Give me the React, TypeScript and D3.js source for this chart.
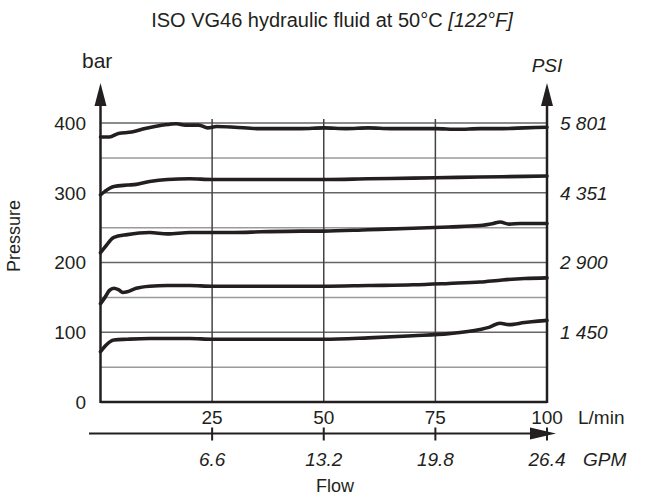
import React from "react";
import * as d3 from "d3";

const W = 665;
const H = 497;

const yTicks = [0, 100, 200, 300, 400];
const gridBar = [50, 100, 150, 200, 250, 300, 350, 400];
const psiLabels = ["1 450", "2 900", "4 351", "5 801"];
const psiAt = [100, 200, 300, 400];
const flowTicks = [25, 50, 75, 100];
const gpmLabels = ["6.6", "13.2", "19.8", "26.4"];

const c1: [number, number][] = [
  [0, 380], [2, 380], [4, 385], [7, 387], [10, 392], [14, 397], [17, 399], [19, 397],
  [22, 397], [24, 393], [26, 395], [30, 394], [35, 392], [40, 392], [45, 392], [50, 393],
  [55, 392], [60, 393], [65, 392], [70, 392], [75, 392], [80, 391], [85, 392], [90, 392],
  [95, 393], [100, 394],
];
const c2: [number, number][] = [
  [0, 297], [1, 302], [3, 309], [6, 311], [8, 312], [11, 316], [15, 319], [20, 320],
  [25, 319], [30, 319], [40, 319], [50, 319], [60, 320], [70, 321], [80, 322], [90, 323],
  [100, 324],
];
const c3: [number, number][] = [
  [0, 214], [1, 222], [3, 236], [6, 240], [11, 243], [15, 241], [20, 243], [25, 243],
  [30, 243], [36, 244], [45, 245], [50, 245], [60, 247], [70, 249], [78, 251], [85, 253],
  [88, 256], [89.5, 258], [91.5, 255], [94, 256], [100, 256],
];
const c4: [number, number][] = [
  [0, 141], [1, 150], [2, 160], [3, 163], [4, 161], [5, 157], [6, 158], [8, 163],
  [11, 166], [15, 167], [20, 167], [25, 166], [30, 166], [40, 166], [50, 166], [60, 167],
  [70, 168], [78, 170], [85, 172], [90, 175], [95, 177], [100, 178],
];
const c5: [number, number][] = [
  [0, 72], [1, 80], [3, 89], [6, 90], [11, 91], [20, 91], [25, 90], [30, 90], [40, 90],
  [50, 90], [60, 92], [70, 95], [78, 98], [85, 104], [87, 107], [89.5, 113], [91.5, 111],
  [95, 114], [98, 116], [100, 117],
];
const curves = [c1, c2, c3, c4, c5];

const INK = "#231f20";
const FONT = "'Liberation Sans', Arial, sans-serif";

export default function App() {
  const x = d3.scaleLinear().domain([0, 100]).range([100.5, 547]);
  const y = d3.scaleLinear().domain([0, 400]).range([402, 123]);
  const line = d3
    .line<[number, number]>()
    .x((d) => x(d[0]))
    .y((d) => y(d[1]))
    .curve(d3.curveMonotoneX);

  const axisY2 = 433.5;
  const fs = 19;

  return (
    <svg width={W} height={H} style={{ display: "block", position: "absolute", left: 0, top: 0 }} fontFamily={FONT}>
      <rect width={W} height={H} fill="#fff" />
      {/* title */}
      <text x={332} y={27} textAnchor="middle" fontSize={20} fill={INK}>
        ISO VG46 hydraulic fluid at 50°C <tspan fontStyle="italic">[122°F]</tspan>
      </text>

      {/* horizontal grid */}
      {gridBar.map((v) => (
        <line key={"h" + v} x1={x(0)} x2={x(100)} y1={y(v)} y2={y(v)}
          stroke={v % 100 === 0 ? "#666" : "#9a9a9a"} strokeWidth={1.5} />
      ))}
      {/* vertical grid */}
      {flowTicks.slice(0, 3).map((v) => (
        <line key={"v" + v} x1={x(v)} x2={x(v)} y1={119} y2={y(0)} stroke="#444" strokeWidth={1.5} />
      ))}

      {/* curves */}
      {curves.map((c, i) => (
        <path key={"c" + i} d={line(c) || ""} fill="none" stroke={INK} strokeWidth={3.6}
          strokeLinejoin="round" strokeLinecap="round" />
      ))}

      {/* frame axes */}
      <line x1={x(0)} x2={x(100)} y1={y(0)} y2={y(0)} stroke={INK} strokeWidth={2.5} />
      <line x1={x(0)} x2={x(0)} y1={y(0) + 1} y2={100} stroke={INK} strokeWidth={2.5} />
      <path d={`M${x(0)},83 L${x(0) - 6},106 L${x(0) + 6},106 Z`} fill={INK} />
      <line x1={x(100)} x2={x(100)} y1={y(0) + 1} y2={100} stroke={INK} strokeWidth={2.5} />
      <path d={`M${x(100)},83 L${x(100) - 6},106 L${x(100) + 6},106 Z`} fill={INK} />

      {/* left ticks */}
      {yTicks.map((v) => (
        <text key={"yl" + v} x={86} y={y(v)} dy="0.36em" textAnchor="end" fontSize={fs} fill={INK}>
          {v}
        </text>
      ))}
      <text x={82} y={68} fontSize={21} fill={INK}>bar</text>

      {/* right ticks */}
      {psiAt.map((v, i) => (
        <text key={"yr" + v} x={560} y={y(v)} dy="0.36em" fontSize={fs} fontStyle="italic" fill={INK}>
          {psiLabels[i]}
        </text>
      ))}
      <text x={x(100)} y={72} textAnchor="middle" fontSize={fs} fontStyle="italic" fill={INK}>PSI</text>

      {/* Pressure label */}
      <text transform="translate(20,236) rotate(-90)" textAnchor="middle" fontSize={18} fill={INK}>
        Pressure
      </text>

      {/* bottom second axis */}
      <line x1={89} x2={535} y1={axisY2} y2={axisY2} stroke={INK} strokeWidth={2.2} />
      <path d={`M556,${axisY2} L530,${axisY2 - 6} L530,${axisY2 + 6} Z`} fill={INK} />
      {flowTicks.map((v, i) => (
        <g key={"xt" + v}>
          <line x1={x(v)} x2={x(v)} y1={axisY2 - 6} y2={axisY2 + 7} stroke={INK} strokeWidth={2} />
          <text x={x(v)} y={424} textAnchor="middle" fontSize={fs} fill={INK}>{v}</text>
          <text x={x(v)} y={466} textAnchor="middle" fontSize={fs} fontStyle="italic" fill={INK}>
            {gpmLabels[i]}
          </text>
        </g>
      ))}
      <text x={578} y={424} fontSize={fs} fill={INK}>L/min</text>
      <text x={583} y={466} fontSize={fs} fontStyle="italic" fill={INK}>GPM</text>
      <text x={335} y={492} textAnchor="middle" fontSize={18} fill={INK}>Flow</text>
    </svg>
  );
}
